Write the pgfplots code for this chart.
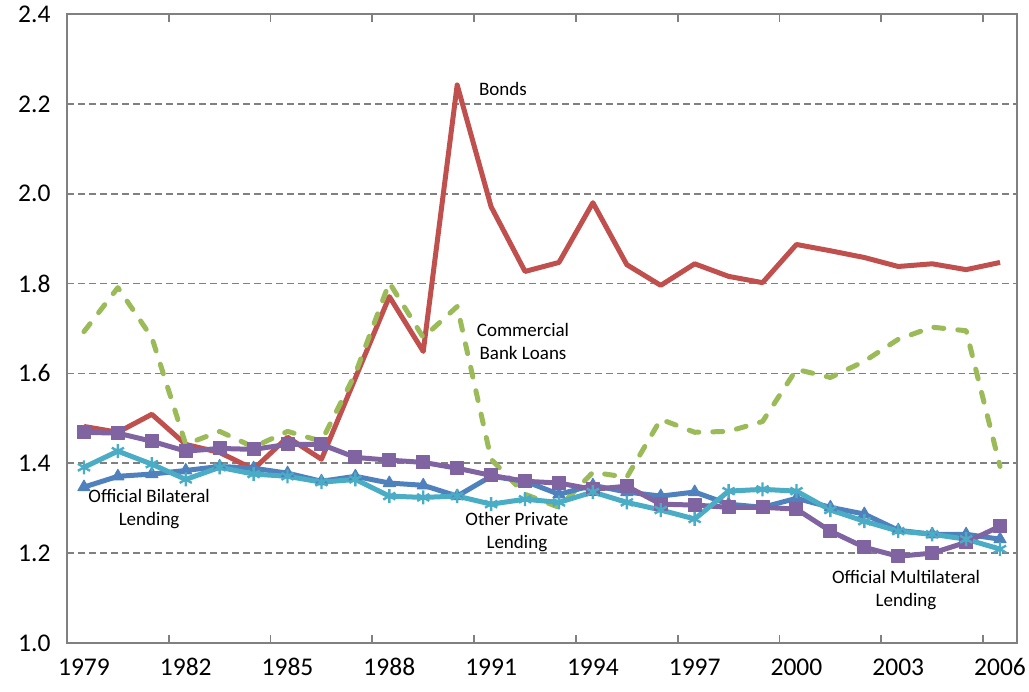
\documentclass[border=0pt]{standalone}
\usepackage{fontspec}
\setmainfont{Carlito}
\usepackage{pgfplots}
\usepackage{pgfplotstable}
\pgfplotsset{compat=1.18}
\definecolor{cred}{HTML}{C0504D}
\definecolor{cgreen}{HTML}{9BBB59}
\definecolor{cblue}{HTML}{4F81BD}
\definecolor{cpurple}{HTML}{8064A2}
\definecolor{ccyan}{HTML}{4BACC6}
\definecolor{cgrid}{HTML}{808080}
\pgfplotstableread{
idx bonds cbl obl oml opl
0 1.482 1.693 1.347 1.469 1.391
1 1.469 1.791 1.371 1.467 1.427
2 1.509 1.680 1.376 1.449 1.398
3 1.442 1.442 1.384 1.427 1.364
4 1.424 1.471 1.393 1.433 1.391
5 1.387 1.436 1.389 1.431 1.376
6 1.458 1.471 1.378 1.442 1.371
7 1.409 1.449 1.360 1.442 1.358
8 1.590 1.600 1.371 1.413 1.364
9 1.771 1.802 1.356 1.407 1.327
10 1.649 1.680 1.351 1.402 1.324
11 2.242 1.749 1.327 1.389 1.327
12 1.971 1.409 1.371 1.373 1.309
13 1.827 1.331 1.360 1.360 1.320
14 1.847 1.302 1.331 1.356 1.313
15 1.980 1.380 1.351 1.342 1.336
16 1.842 1.369 1.336 1.349 1.313
17 1.796 1.498 1.327 1.309 1.296
18 1.844 1.469 1.336 1.307 1.276
19 1.816 1.471 1.309 1.302 1.338
20 1.802 1.493 1.302 1.302 1.342
21 1.887 1.609 1.322 1.298 1.338
22 1.873 1.591 1.302 1.249 1.296
23 1.858 1.627 1.287 1.213 1.271
24 1.838 1.676 1.251 1.193 1.249
25 1.844 1.703 1.242 1.200 1.242
26 1.831 1.695 1.242 1.224 1.231
27 1.847 1.393 1.231 1.260 1.209
}\datatable
\begin{document}
\begin{tikzpicture}
\useasboundingbox (0,0) rectangle (1029bp,692bp);
\begin{axis}[
  at={(67bp,49bp)}, anchor=south west,
  width=950bp, height=629bp, scale only axis,
  xmin=-0.5, xmax=27.5, ymin=1, ymax=2.4,
  xtick={0,3,...,27},
  xticklabels={1979,1982,1985,1988,1991,1994,1997,2000,2003,2006},
  major x tick style={draw=none},
  extra x ticks={2.5,5.5,8.5,11.5,14.5,17.5,20.5,23.5,26.5},
  extra x tick labels={},
  extra x tick style={major tick length=8bp, tick align=inside, major x tick style={draw=cgrid, line width=1.8bp}, grid=none},
  ytick={1.0,1.2,...,2.41},
  y tick style={draw=none},
  ymajorgrids,
  major grid style={cgrid, line width=1.8bp, dash pattern=on 7bp off 4bp},
  axis line style={cgrid, line width=2.4bp},
  tick label style={font=\fontsize{25.5bp}{30bp}\selectfont},
  /pgf/number format/assume math mode=true,
  yticklabel={\pgfmathprintnumber[fixed,fixed zerofill,precision=1]{\tick}},
  yticklabel style={xshift=-13bp},
  xticklabel style={yshift=-12bp},
  clip=false,
]
\addplot[cred, line width=5bp, line join=round] table[x=idx,y=bonds]{\datatable};
\addplot[cgreen, line width=5bp, dash pattern=on 10bp off 14bp, line cap=round, line join=round] table[x=idx,y=cbl]{\datatable};
\addplot[cblue, line width=5bp, line join=round, mark=triangle*, mark size=7bp, mark options={solid, line width=1bp}] table[x=idx,y=obl]{\datatable};
\addplot[cpurple, line width=5bp, line join=round, mark=square*, mark size=6.5bp, mark options={solid, line width=1bp}] table[x=idx,y=oml]{\datatable};
\addplot[ccyan, line width=5bp, line join=round, mark=asterisk, mark size=7bp, mark options={solid, line width=2.4bp}] table[x=idx,y=opl]{\datatable};
\begin{scope}[every node/.style={font=\fontsize{19bp}{22.5bp}\selectfont, align=center}]
\node at (axis cs:12.35,2.233) {Bonds};
\node at (axis cs:12.94,1.671) {Commercial\\Bank Loans};
\node at (axis cs:1.92,1.298) {Official Bilateral\\Lending};
\node at (axis cs:12.76,1.247) {Other Private\\Lending};
\node at (axis cs:24.23,1.118) {Official Multilateral\\Lending};
\end{scope}
\end{axis}
\end{tikzpicture}
\end{document}
